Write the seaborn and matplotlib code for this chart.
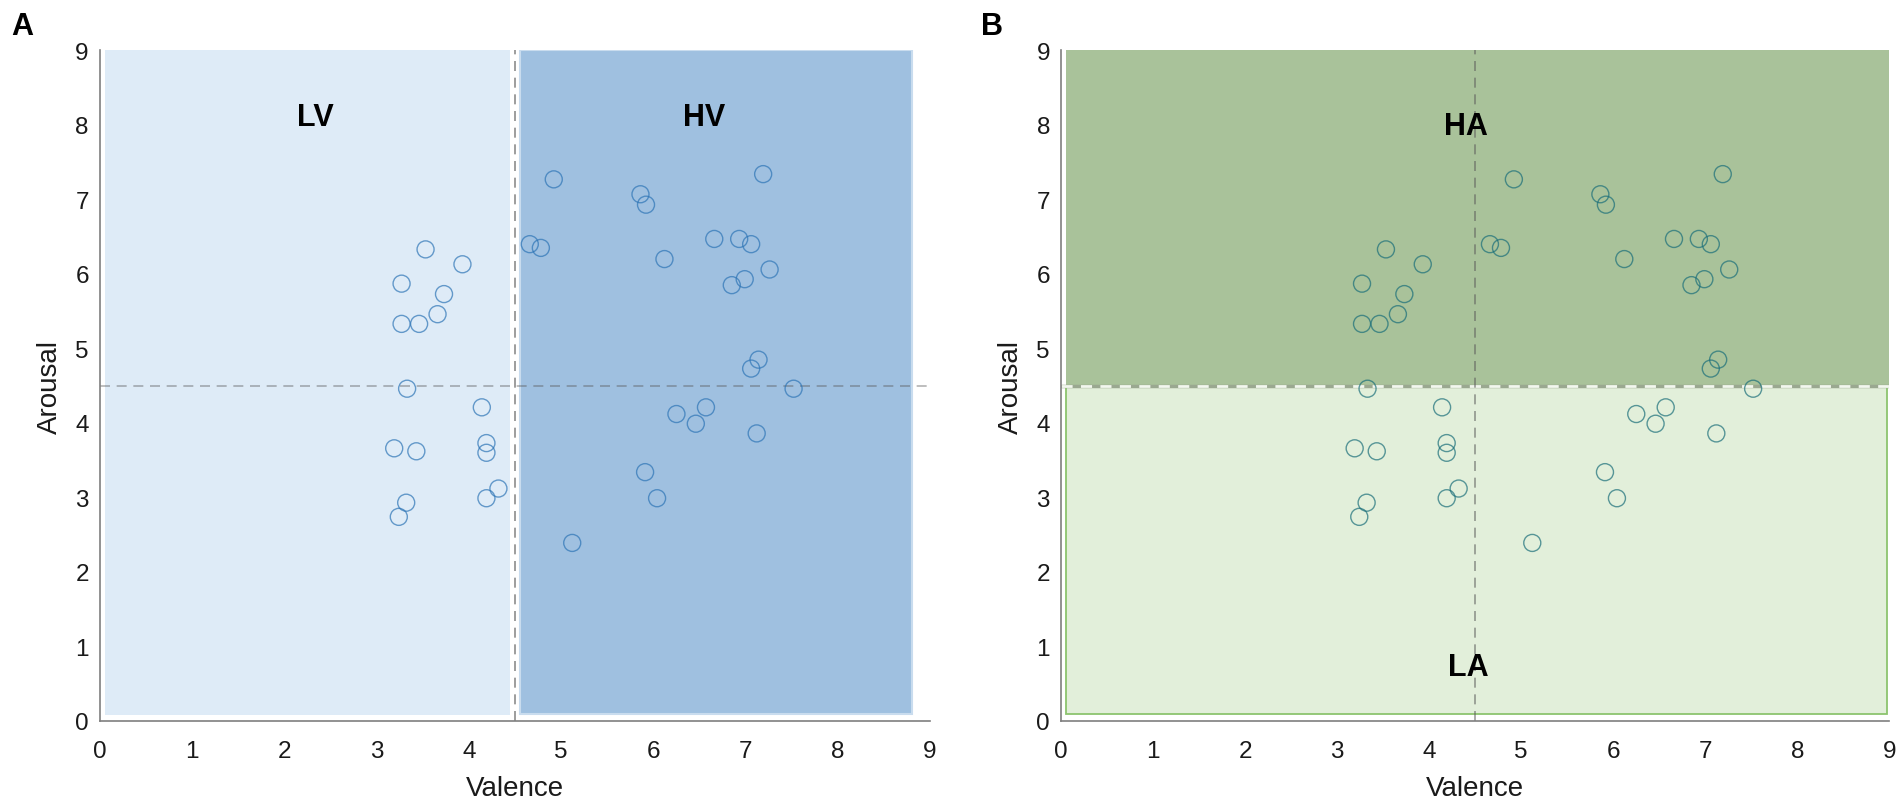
import matplotlib
matplotlib.use("Agg")
import matplotlib.pyplot as plt
from matplotlib.patches import Rectangle
import seaborn as sns
import pandas as pd

# ─────────────────────────────────────────────
# DATA  (valence / arousal ratings per stimulus)
# ─────────────────────────────────────────────
valence = [3.53, 3.93, 3.27, 3.73, 3.66, 3.27, 3.46, 3.33, 4.14, 3.19,
           3.43, 4.19, 4.19, 4.32, 4.19, 3.32, 3.24,
           4.92, 5.86, 5.92, 4.66, 4.78, 6.12, 7.19, 6.66, 6.93, 7.06,
           7.26, 6.99, 6.85, 7.14, 7.06, 7.52, 6.57, 6.25, 6.46, 7.12,
           5.91, 6.04, 5.12]
arousal = [6.33, 6.13, 5.87, 5.73, 5.46, 5.33, 5.33, 4.46, 4.21, 3.66,
           3.62, 3.73, 3.60, 3.12, 2.99, 2.93, 2.74,
           7.27, 7.07, 6.93, 6.40, 6.35, 6.20, 7.34, 6.47, 6.47, 6.40,
           6.06, 5.93, 5.85, 4.85, 4.73, 4.46, 4.21, 4.12, 3.99, 3.86,
           3.34, 2.99, 2.39]

ticks = list(range(0, 10))
threshold = 4.5

df = pd.DataFrame({"Valence": valence, "Arousal": arousal})

# ─────────────────────────────────────────────
# STYLE
# ─────────────────────────────────────────────
sns.set_style("white")
plt.rcParams["font.family"] = ["Liberation Sans", "DejaVu Sans"]
plt.rcParams["xtick.direction"] = "in"
plt.rcParams["ytick.direction"] = "in"

fig = plt.figure(figsize=(19.04, 8.04), dpi=100)
ax_a = fig.add_axes([0.0525, 0.102, 0.436, 0.834])
ax_b = fig.add_axes([0.5573, 0.102, 0.435, 0.834])


def style_axes(ax):
    ax.set_xlim(0, 9)
    ax.set_ylim(0, 9)
    ax.set_xticks(ticks)
    ax.set_yticks(ticks)
    for side in ["top", "right"]:
        ax.spines[side].set_visible(False)
    for side in ["left", "bottom"]:
        ax.spines[side].set_color("#7f7f7f")
        ax.spines[side].set_linewidth(1.2)
    ax.tick_params(axis="x", length=9, width=1, color="#7f7f7f",
                   labelsize=17.5, pad=14, labelcolor="#1a1a1a")
    ax.tick_params(axis="y", length=4, width=1, color="#7f7f7f",
                   labelsize=17.5, pad=8, labelcolor="#1a1a1a")
    ax.set_xlabel("Valence", fontsize=20, color="#1a1a1a", labelpad=9)
    ax.set_ylabel("Arousal", fontsize=20, color="#1a1a1a", labelpad=9)


# ─────────────────────────────────────────────
# PANEL A : low / high valence
# ─────────────────────────────────────────────
ax_a.add_patch(Rectangle((0.05, 0.08), 4.4, 8.92, facecolor="#deebf7",
                         edgecolor="none", zorder=0))
ax_a.add_patch(Rectangle((4.55, 0.1), 4.25, 8.9, facecolor="#9fc0e0",
                         edgecolor="#c9dcee", linewidth=1.5, zorder=0))
ax_a.axvline(threshold, color="#8c8c8c", linestyle=(0, (6, 4)), linewidth=1.2, zorder=1)
ax_a.axhline(threshold, color="#555555", alpha=0.45, linestyle=(0, (6, 4)),
             linewidth=1.2, zorder=1)
sns.scatterplot(data=df, x="Valence", y="Arousal", ax=ax_a, marker="o", s=150,
                fc="none", ec="#2e75b6", linewidth=1.0, alpha=0.7, zorder=3)
ax_a.text(2.33, 8.0, "LV", fontsize=22, fontweight="bold", color="black",
          ha="center", va="baseline")
ax_a.text(6.55, 8.0, "HV", fontsize=22, fontweight="bold", color="black",
          ha="center", va="baseline")
style_axes(ax_a)

# ─────────────────────────────────────────────
# PANEL B : low / high arousal
# ─────────────────────────────────────────────
ax_b.add_patch(Rectangle((0.05, 4.5), 8.95, 4.5, facecolor="#a9c29a",
                         edgecolor="none", zorder=0))
ax_b.add_patch(Rectangle((0.05, 0.1), 8.93, 4.38, facecolor="#e2efda",
                         edgecolor="#8cc46e", linewidth=1.3, zorder=0))
ax_b.axhline(threshold, color="#9aa890", linewidth=2.5, zorder=1)
ax_b.axhline(threshold, color="#f2f7ee", linestyle=(0, (4, 3)), linewidth=2.0, zorder=1)
ax_b.axvline(threshold, color="#5a5a5a", alpha=0.6, linestyle=(0, (6, 4)),
             linewidth=1.2, zorder=1)
sns.scatterplot(data=df, x="Valence", y="Arousal", ax=ax_b, marker="o", s=150,
                fc="none", ec="#1b6f7a", linewidth=1.0, alpha=0.7, zorder=3)
ax_b.text(4.4, 7.88, "HA", fontsize=22, fontweight="bold", color="black",
          ha="center", va="baseline")
ax_b.text(4.42, 0.62, "LA", fontsize=22, fontweight="bold", color="black",
          ha="center", va="baseline")
style_axes(ax_b)

# panel letters
fig.text(0.006, 0.966, "A", fontsize=22, fontweight="bold", color="black", va="center")
fig.text(0.515, 0.966, "B", fontsize=22, fontweight="bold", color="black", va="center")

fig.savefig("out.png", dpi=100)
